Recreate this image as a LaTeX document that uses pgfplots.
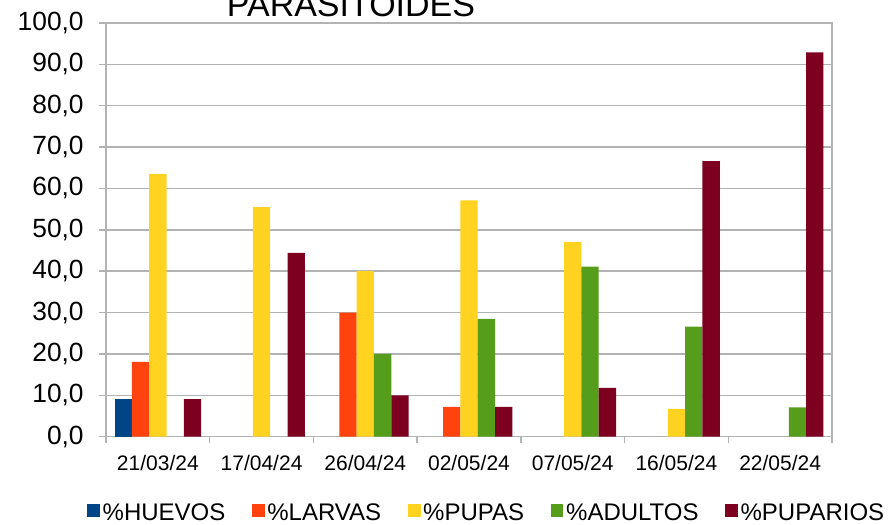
\documentclass[border=0pt]{standalone}
\usepackage{pgfplots}
\pgfplotsset{compat=1.18}
\usepackage{fontspec}
\setmainfont{Liberation Sans}
\definecolor{chuevos}{HTML}{004586}
\definecolor{clarvas}{HTML}{FF420E}
\definecolor{cpupas}{HTML}{FFD320}
\definecolor{cadultos}{HTML}{579D1C}
\definecolor{cpuparios}{HTML}{7E0021}
\definecolor{gridgray}{HTML}{B3B3B3}
\begin{document}
\begin{tikzpicture}
\begin{axis}[
  at={(0pt,0pt)}, anchor=south west,
  scale only axis,
  width=544.5pt, height=310.3pt,
  ybar=0pt, bar width=13pt,
  xmin=-0.5, xmax=6.5,
  ymin=0, ymax=100,
  ytick={0,10,...,100},
  xtick={0,1,2,3,4,5,6},
  xticklabels={21/03/24,17/04/24,26/04/24,02/05/24,07/05/24,16/05/24,22/05/24},
  minor xtick={-0.5,0.5,1.5,2.5,3.5,4.5,5.5,6.5},
  xtick pos=bottom, ytick pos=left,
  tick align=outside,
  major tick length=5.25pt,
  minor tick length=5pt,
  xtick style={draw=none},
  minor x tick style={draw=gridgray, line width=1.1pt},
  ytick style={draw=gridgray, line width=1.1pt},
  ymajorgrids,
  grid style={draw=gridgray, line width=1.1pt},
  axis line style={draw=gridgray, line width=1.1pt},
  /pgf/number format/.cd, fixed, fixed zerofill, precision=1, use comma, assume math mode=true,
  /pgfplots/.cd,
  yticklabel style={font=\fontsize{19.75pt}{21pt}\selectfont, xshift=-8pt},
  xticklabel style={font=\fontsize{15.75pt}{18pt}\selectfont, yshift=-5pt},
  legend style={at={(axis description cs:0.525,-0.184)}, anchor=center, draw=none,
    font=\fontsize{18pt}{20pt}\selectfont,
    /tikz/every even column/.append style={column sep=18pt}},
  legend columns=5,
  legend image code/.code={\fill[#1] (0pt,-3pt) rectangle (9.5pt,6.5pt);},
]
\addplot[fill=chuevos, draw=none] coordinates {(0,9.2)};
\addplot[fill=clarvas, draw=none] coordinates {(0,18.1) (2,30.0) (3,7.2)};
\addplot[fill=cpupas, draw=none] coordinates {(0,63.5) (1,55.5) (2,40.0) (3,57.1) (4,47.1) (5,6.7)};
\addplot[fill=cadultos, draw=none] coordinates {(2,20.0) (3,28.5) (4,41.1) (5,26.6) (6,7.1)};
\addplot[fill=cpuparios, draw=none] coordinates {(0,9.1) (1,44.4) (2,10.0) (3,7.2) (4,11.8) (5,66.6) (6,92.9)};
\legend{\%HUEVOS,\%LARVAS,\%PUPAS,\%ADULTOS,\%PUPARIOS}
\end{axis}
\node[anchor=base, font=\fontsize{25.5pt}{28pt}\selectfont, inner sep=0pt] at (183.75pt,314.8pt) {PARASITOIDES};
\pgfresetboundingbox
\path[use as bounding box] (-79.5pt,-66.2pt) rectangle (588.75pt,327.5pt);
\end{tikzpicture}
\end{document}
